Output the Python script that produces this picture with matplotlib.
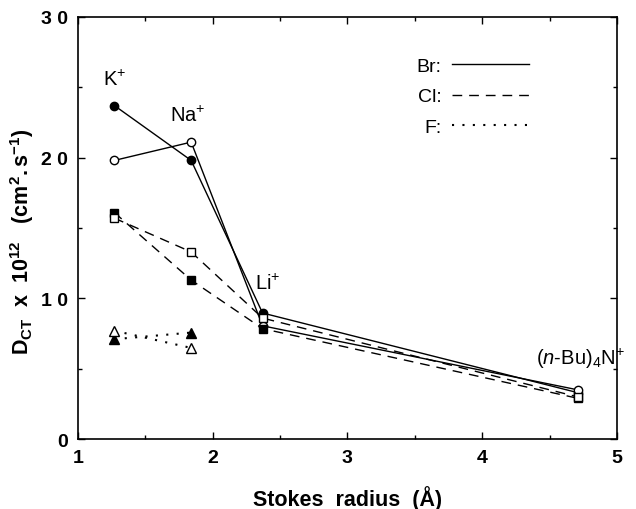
import matplotlib
matplotlib.use("Agg")
import matplotlib.pyplot as plt
from matplotlib.lines import Line2D
from matplotlib.ticker import MultipleLocator

plt.rcParams['font.family'] = ['Liberation Sans', 'DejaVu Sans']
plt.rcParams['mathtext.fontset'] = 'custom'
plt.rcParams['mathtext.rm'] = 'Liberation Sans'
plt.rcParams['mathtext.it'] = 'Liberation Sans:italic'
plt.rcParams['mathtext.bf'] = 'Liberation Sans:bold'

# Data
cations = ['K$^{+}$', 'Na$^{+}$', 'Li$^{+}$', '($\\it{n}$-Bu)$_4$N$^{+}$']
stokes_radius = [1.27, 1.84, 2.37, 4.71]
br_closed = [23.7, 19.8, 8.96, 3.3]
br_open = [19.8, 21.1, 8.05, 3.5]
cl_closed = [16.1, 11.3, 7.85, 2.9]
cl_open = [15.7, 13.3, 8.6, 3.0]
f_closed = [7.1, 7.57]
f_open = [7.7, 6.48]
label_x = [1.275, 1.816, 2.41, 4.73]
label_y = [25.6, 23.0, 11.1, 5.8]
xticks = [1, 2, 3, 4, 5]
yticks = [0, 10, 20, 30]
ytick_labels = ['0', '1 0', '2 0', '3 0']

fig = plt.figure(figsize=(6.36, 5.10), dpi=100)
ax = fig.add_axes([0.1226, 0.137, 0.8474, 0.828])

lw = 1.0
ms = 6
# Br (solid)
ax.plot(stokes_radius, br_closed, '-', color='black', lw=lw, marker='o', ms=ms,
        mfc='black', mec='black')
ax.plot(stokes_radius, br_open, '-', color='black', lw=lw, marker='o', ms=ms,
        mfc='white', mec='black')
# Cl (dashed)
ax.plot(stokes_radius, cl_closed, color='black', lw=lw, dashes=(7, 5), marker='s',
        ms=ms - 0.5, mfc='black', mec='black')
ax.plot(stokes_radius, cl_open, color='black', lw=lw, dashes=(7, 5), marker='s',
        ms=ms - 0.5, mfc='white', mec='black')
# F (dotted)
ax.plot(stokes_radius[:2], f_closed, color='black', lw=1.5, dashes=(1, 4), marker='^',
        ms=ms + 0.5, mfc='black', mec='black')
ax.plot(stokes_radius[:2], f_open, color='black', lw=1.5, dashes=(1, 4), marker='^',
        ms=ms + 0.5, mfc='white', mec='black')

for name, lx, ly in zip(cations, label_x, label_y):
    ax.text(lx, ly, name, ha='center', va='center', fontsize=14.5)

ax.set_xlim(1, 5)
ax.set_ylim(0, 30)
ax.set_xticks(xticks)
ax.set_yticks(yticks)
ax.set_yticklabels(ytick_labels)
ax.xaxis.set_minor_locator(MultipleLocator(0.5))
ax.yaxis.set_minor_locator(MultipleLocator(5))
ax.tick_params(which='both', direction='in', top=True, right=True)
ax.tick_params(which='major', length=5, width=1, labelsize=14, pad=7)
ax.tick_params(which='minor', length=3, width=1)
for lab in ax.get_xticklabels() + ax.get_yticklabels():
    lab.set_fontweight('bold')
for s in ax.spines.values():
    s.set_linewidth(1.2)

ax.set_xlabel('Stokes  radius  (Å)', fontsize=15.5, fontweight='bold', labelpad=14)
ax.set_ylabel(r'$\mathbf{D_{CT}\ \ x\ \ 10^{12}\ \ \ (cm^{2}.s^{-1})}$', fontsize=15.5)
ax.yaxis.set_label_coords(-0.078, 0.47)

handles = [
    Line2D([], [], color='black', lw=1.0),
    Line2D([], [], color='black', lw=1.0, dashes=(7, 5)),
    Line2D([], [], color='black', lw=1.5, dashes=(1, 4)),
]
leg = ax.legend(handles, ['Br:', 'Cl:', 'F:'], loc='upper right',
                bbox_to_anchor=(0.87, 0.945), frameon=False, markerfirst=False,
                handlelength=4.0, fontsize=14, labelspacing=0.65, handletextpad=0.5)
for t in leg.get_texts():
    t.set_ha('right')

fig.savefig('out.png', dpi=100)
